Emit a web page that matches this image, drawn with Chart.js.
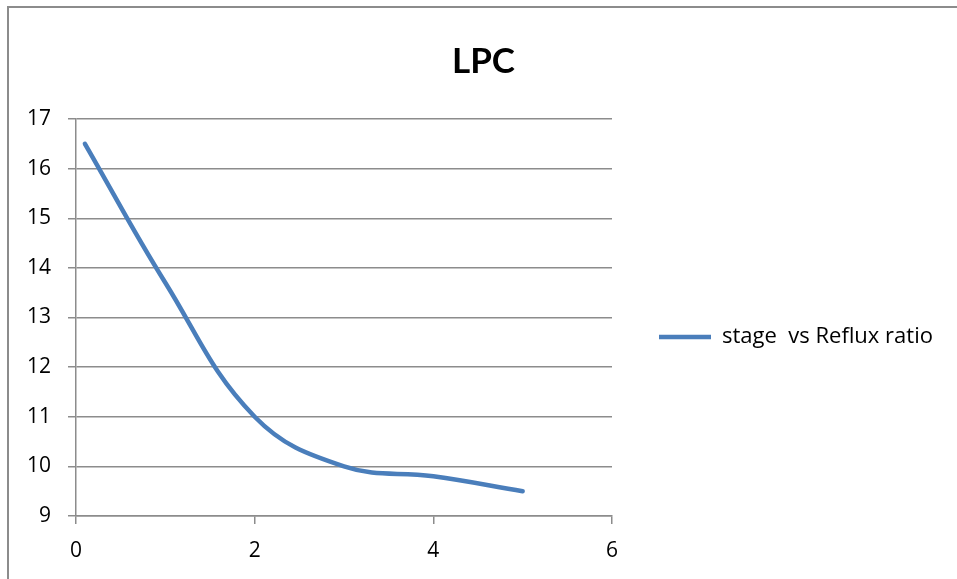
<!DOCTYPE html>
<html>
<head>
<meta charset="utf-8">
<script src="https://cdn.jsdelivr.net/npm/chart.js@4.4.0/dist/chart.umd.min.js"></script>
<style>
  html, body { margin: 0; padding: 0; background: #fff; overflow: hidden; }
  #wrap { position: relative; width: 957px; height: 579px; }
  #frame { position: absolute; left: 7px; top: 6px; width: 1000px; height: 700px;
           border-left: 2px solid #8c8c8c; border-top: 2px solid #8c8c8c; pointer-events: none; }
  canvas { position: absolute; left: 0; top: 0; }
</style>
</head>
<body>
<div id="wrap">
  <canvas id="c" width="957" height="579"></canvas>
  <div id="frame"></div>
</div>
<script>
// Data
const chartTitle = 'LPC';
const seriesName = 'stage  vs Reflux ratio';
const refluxRatio = [0.1, 1, 2, 3, 4, 5];
const stages = [16.5, 13.7, 11, 10, 9.8, 9.5];
const xTicks = [0, 2, 4, 6];
const yTicks = [9, 10, 11, 12, 13, 14, 15, 16, 17];

const points = refluxRatio.map((x, i) => ({ x: x, y: stages[i] }));
const FONT = '"Open Sans"';
const GRID = '#8c8c8c';

const legendWidthPlugin = {
  id: 'legendWidth',
  beforeLayout(chart) {
    const lg = chart.legend;
    if (lg && !lg._fixedWidth) {
      const orig = lg.fit;
      lg.fit = function () { orig.call(this); this.width = 345; };
      lg._fixedWidth = true;
    }
  }
};

new Chart(document.getElementById('c'), {
  type: 'line',
  data: {
    datasets: [{
      label: seriesName,
      data: points,
      borderColor: '#4a7ebb',
      backgroundColor: '#4a7ebb',
      borderWidth: 4.5,
      borderCapStyle: 'round',
      borderJoinStyle: 'round',
      pointRadius: 0,
      pointHoverRadius: 0,
      tension: 0.4,
      fill: false
    }]
  },
  plugins: [legendWidthPlugin],
  options: {
    responsive: false,
    animation: false,
    events: [],
    layout: { padding: { left: 10, right: 0, top: 0, bottom: 0 } },
    plugins: {
      title: {
        display: true,
        text: chartTitle,
        color: '#000',
        font: { family: 'Lato', size: 35, weight: 'bold', lineHeight: 1 },
        padding: { top: 44, bottom: 40 }
      },
      legend: {
        display: true,
        position: 'right',
        align: 'center',
        fullSize: false,
        title: { display: true, text: '', font: { size: 16, lineHeight: 1 }, padding: { top: 0, bottom: 23 } },
        labels: {
          usePointStyle: true,
          pointStyle: 'line',
          pointStyleWidth: 52,
          padding: 47,
          color: '#000',
          font: { family: FONT, size: 22 }
        }
      },
      tooltip: { enabled: false }
    },
    scales: {
      x: {
        type: 'linear',
        min: xTicks[0],
        max: xTicks[xTicks.length - 1],
        afterBuildTicks: (s) => { s.ticks = xTicks.map(v => ({ value: v })); },
        afterFit: (s) => { s.height = 63; },
        ticks: { color: '#000', font: { family: FONT, size: 21 }, padding: 14, maxRotation: 0 },
        grid: { drawOnChartArea: false, drawTicks: true, tickLength: 8, color: GRID, lineWidth: 1.5 },
        border: { display: true, color: GRID, width: 1.5 }
      },
      y: {
        type: 'linear',
        min: yTicks[0],
        max: yTicks[yTicks.length - 1],
        afterBuildTicks: (s) => { s.ticks = yTicks.map(v => ({ value: v })); },
        afterFit: (s) => { s.width = 66; },
        ticks: { color: '#000', font: { family: FONT, size: 21 }, padding: 17 },
        grid: { drawOnChartArea: true, drawTicks: true, tickLength: 8, color: GRID, lineWidth: 1.5 },
        border: { display: true, color: GRID, width: 1.5 }
      }
    }
  }
});
</script>
</body>
</html>
